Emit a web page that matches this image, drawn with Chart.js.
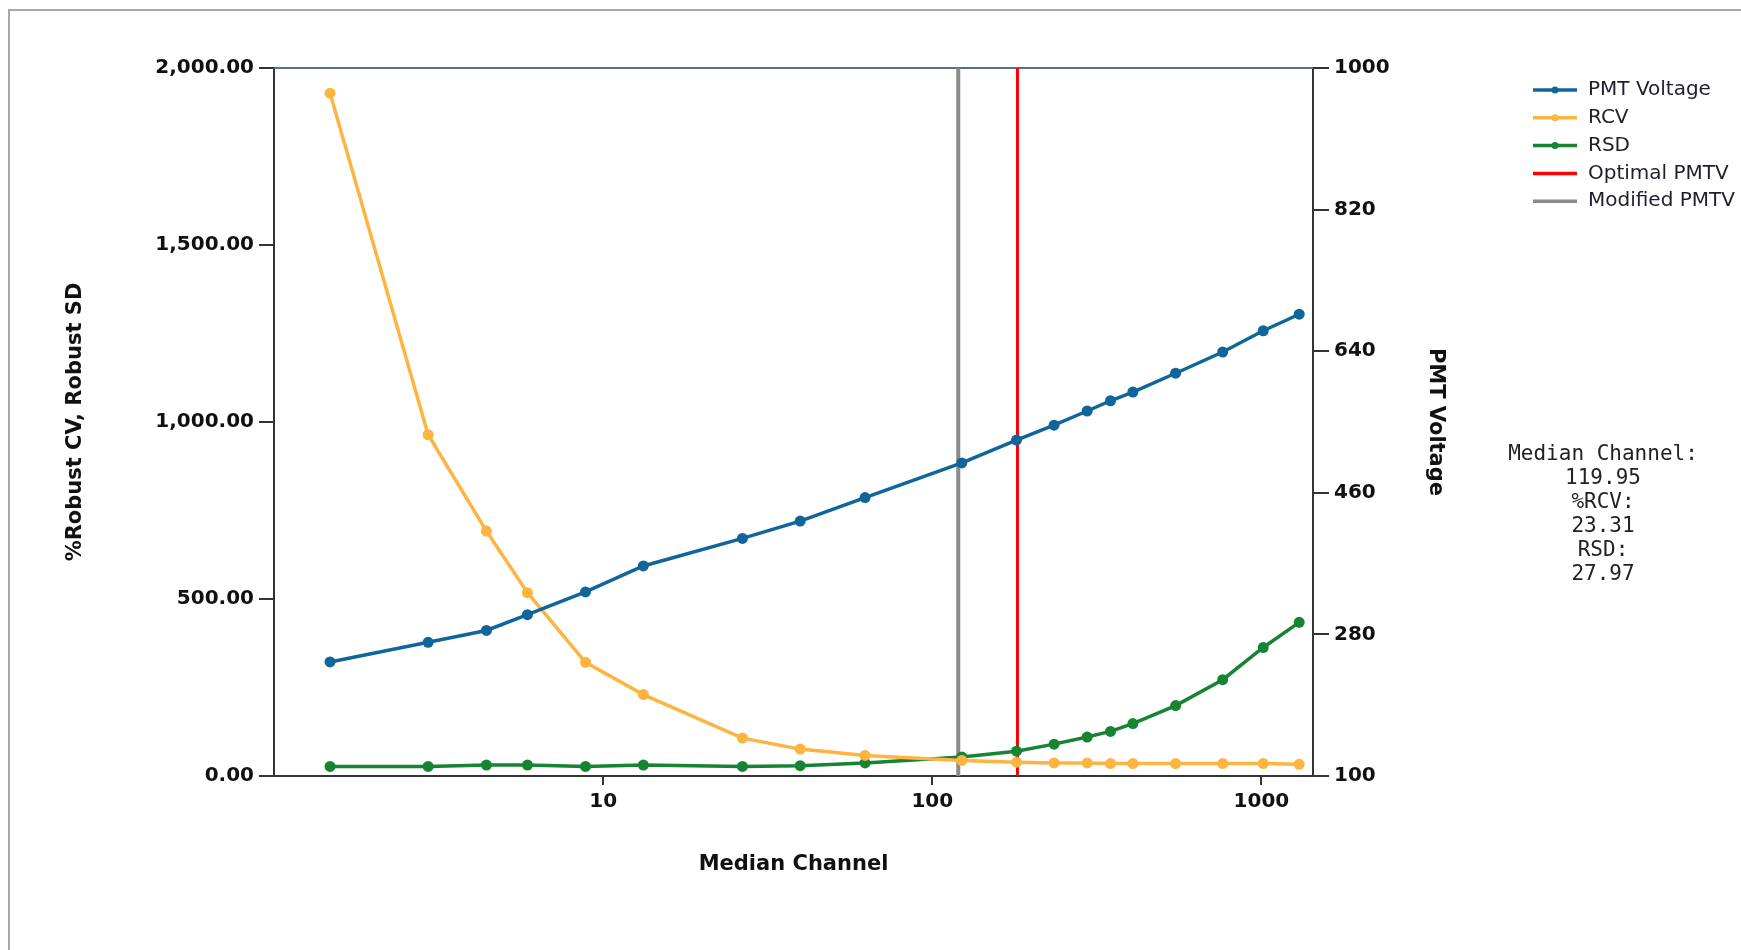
<!DOCTYPE html>
<html>
<head>
<meta charset="utf-8">
<title>PMT Voltage optimisation</title>
<script src="https://cdn.jsdelivr.net/npm/chart.js@4.4.0/dist/chart.umd.min.js"></script>
<style>
  html, body { margin: 0; padding: 0; background: #fff; overflow: hidden; }
  #frame { position: absolute; left: 8px; top: 9px; width: 1900px; height: 1100px;
           border-top: 2px solid #a9a9a9; border-left: 2px solid #a9a9a9; }
  #wrap { position: absolute; left: 0; top: 0; width: 1741px; height: 950px; }
</style>
</head>
<body>
<div id="frame"></div>
<div id="wrap"><canvas id="chart"></canvas></div>
<script>
// values
const channels = [1.48, 2.94, 4.42, 5.89, 8.84, 13.25, 26.5, 39.7, 62.5, 123, 180.3, 234.5, 295.6, 348, 407, 549, 763, 1013, 1303];
const pmtVoltage = [245, 270, 285, 305, 334, 367, 402, 424, 454, 498, 527, 546, 564, 577, 588, 612, 639, 666, 687];
const rcv = [1929, 964, 692, 518, 321, 230, 107, 76, 58, 44, 39, 37, 37, 35, 35, 35, 35, 35, 33];
const rsd = [27, 27, 31, 31, 27, 31, 27, 29, 37, 54, 70, 90, 110, 126, 148, 199, 272, 363, 434];

const optimalChannel = 181.5;
const modifiedChannel = 119.95;
const modifiedRcv = 23.31;
const modifiedRsd = 27.97;

const xTicks = [10, 100, 1000];

const BLUE = '#10659a';
const ORANGE = '#fdb441';
const GREEN = '#168433';
const RED = '#ff0000';
const GREY = '#8a8a8a';

function points(ys) {
    return channels.map((c, i) => ({ x: c, y: ys[i] }));
}

function vline(x) {
    return [{ x: x, y: 0 }, { x: x, y: 2000 }];
}

const tickFont = { family: 'DejaVu Sans', size: 20, weight: 'bold' };
const titleFont = { family: 'DejaVu Sans', size: 21, weight: 'bold' };

const extras = {
    id: 'extras',
    beforeDatasetsDraw(chart) {
        const { ctx, chartArea } = chart;
        ctx.save();
        ctx.strokeStyle = '#5a6e8c';
        ctx.lineWidth = 2;
        ctx.beginPath();
        ctx.moveTo(chartArea.left, chartArea.top);
        ctx.lineTo(chartArea.right, chartArea.top);
        ctx.stroke();
        ctx.restore();
    },
    afterDraw(chart) {
        const { ctx, chartArea } = chart;
        ctx.save();

        // legend
        const lx = chartArea.right + 220;
        let ly = chartArea.top + 22;
        ctx.font = '20px "DejaVu Sans"';
        ctx.textBaseline = 'middle';
        ctx.textAlign = 'left';
        chart.data.datasets.forEach(ds => {
            ctx.strokeStyle = ds.borderColor;
            ctx.lineWidth = 3.5;
            ctx.beginPath();
            ctx.moveTo(lx, ly);
            ctx.lineTo(lx + 44, ly);
            ctx.stroke();
            if (ds.pointRadius > 0) {
                ctx.fillStyle = ds.borderColor;
                ctx.beginPath();
                ctx.arc(lx + 22, ly, 3.5, 0, Math.PI * 2);
                ctx.fill();
            }
            ctx.fillStyle = '#1e1e2e';
            ctx.fillText(ds.label, lx + 55, ly);
            ly += 27.8;
        });

        // info text for the modified PMTV
        const lines = ['Median Channel:', modifiedChannel.toFixed(2), '%RCV:', modifiedRcv.toFixed(2), 'RSD:', modifiedRsd.toFixed(2)];
        ctx.font = '21px "DejaVu Sans Mono"';
        ctx.textAlign = 'center';
        ctx.fillStyle = '#222';
        let ty = chartArea.top + 387;
        lines.forEach(t => {
            ctx.fillText(t, chartArea.right + 290, ty);
            ty += 24;
        });
        ctx.restore();
    }
};

const ctx = document.getElementById('chart').getContext('2d');
new Chart(ctx, {
    type: 'line',
    data: {
        datasets: [
            {
                label: 'PMT Voltage',
                data: points(pmtVoltage),
                yAxisID: 'y1',
                borderColor: BLUE,
                backgroundColor: BLUE,
                borderWidth: 3.5,
                pointRadius: 5.5,
                pointBorderWidth: 0,
                pointBackgroundColor: BLUE
            },
            {
                label: 'RCV',
                data: points(rcv),
                yAxisID: 'y',
                borderColor: ORANGE,
                backgroundColor: ORANGE,
                borderWidth: 3.5,
                pointRadius: 5.5,
                pointBorderWidth: 0,
                pointBackgroundColor: ORANGE
            },
            {
                label: 'RSD',
                data: points(rsd),
                yAxisID: 'y',
                borderColor: GREEN,
                backgroundColor: GREEN,
                borderWidth: 3.5,
                pointRadius: 5.5,
                pointBorderWidth: 0,
                pointBackgroundColor: GREEN
            },
            {
                label: 'Optimal PMTV',
                data: vline(optimalChannel),
                yAxisID: 'y',
                borderColor: RED,
                borderWidth: 3,
                pointRadius: 0
            },
            {
                label: 'Modified PMTV',
                data: vline(modifiedChannel),
                yAxisID: 'y',
                borderColor: GREY,
                borderWidth: 4,
                pointRadius: 0
            }
        ]
    },
    options: {
        responsive: true,
        maintainAspectRatio: false,
        animation: false,
        events: [],
        layout: { padding: { left: 0, top: 68, right: 288, bottom: 64 } },
        plugins: {
            legend: { display: false },
            tooltip: { enabled: false }
        },
        scales: {
            x: {
                type: 'logarithmic',
                position: 'bottom',
                min: 1,
                max: 1435,
                afterBuildTicks: axis => { axis.ticks = xTicks.map(v => ({ value: v })); },
                afterFit: axis => { axis.height = 110; },
                grid: { drawOnChartArea: false, tickLength: 9, color: '#333', lineWidth: 2 },
                border: { display: true, color: '#333', width: 2 },
                ticks: {
                    autoSkip: false,
                    maxRotation: 0,
                    padding: 5,
                    color: '#111',
                    font: tickFont,
                    callback: v => String(v)
                },
                title: {
                    display: true,
                    text: 'Median Channel',
                    color: '#111',
                    font: titleFont,
                    padding: { top: 0, bottom: 9 }
                }
            },
            y: {
                type: 'linear',
                position: 'left',
                min: 0,
                max: 2000,
                afterFit: axis => { axis.width = 274; },
                grid: { drawOnChartArea: false, tickLength: 15, color: '#333', lineWidth: 2 },
                border: { display: true, color: '#333', width: 2 },
                ticks: {
                    stepSize: 500,
                    padding: 5,
                    color: '#111',
                    font: tickFont,
                    callback: v => v.toLocaleString('en-US', { minimumFractionDigits: 2, maximumFractionDigits: 2 })
                },
                title: {
                    display: true,
                    text: '%Robust CV, Robust SD',
                    color: '#111',
                    font: titleFont,
                    padding: { top: 63, bottom: 0 }
                }
            },
            y1: {
                type: 'linear',
                position: 'right',
                min: 100,
                max: 1000,
                afterFit: axis => { axis.width = 140; },
                grid: { drawOnChartArea: false, tickLength: 16, color: '#333', lineWidth: 2 },
                border: { display: true, color: '#333', width: 2 },
                ticks: {
                    stepSize: 180,
                    padding: 5,
                    color: '#111',
                    font: tickFont,
                    callback: v => String(v)
                },
                title: {
                    display: true,
                    text: 'PMT Voltage',
                    color: '#111',
                    font: titleFont,
                    padding: { top: 5, bottom: 0 }
                }
            }
        }
    },
    plugins: [extras]
});
</script>
</body>
</html>
